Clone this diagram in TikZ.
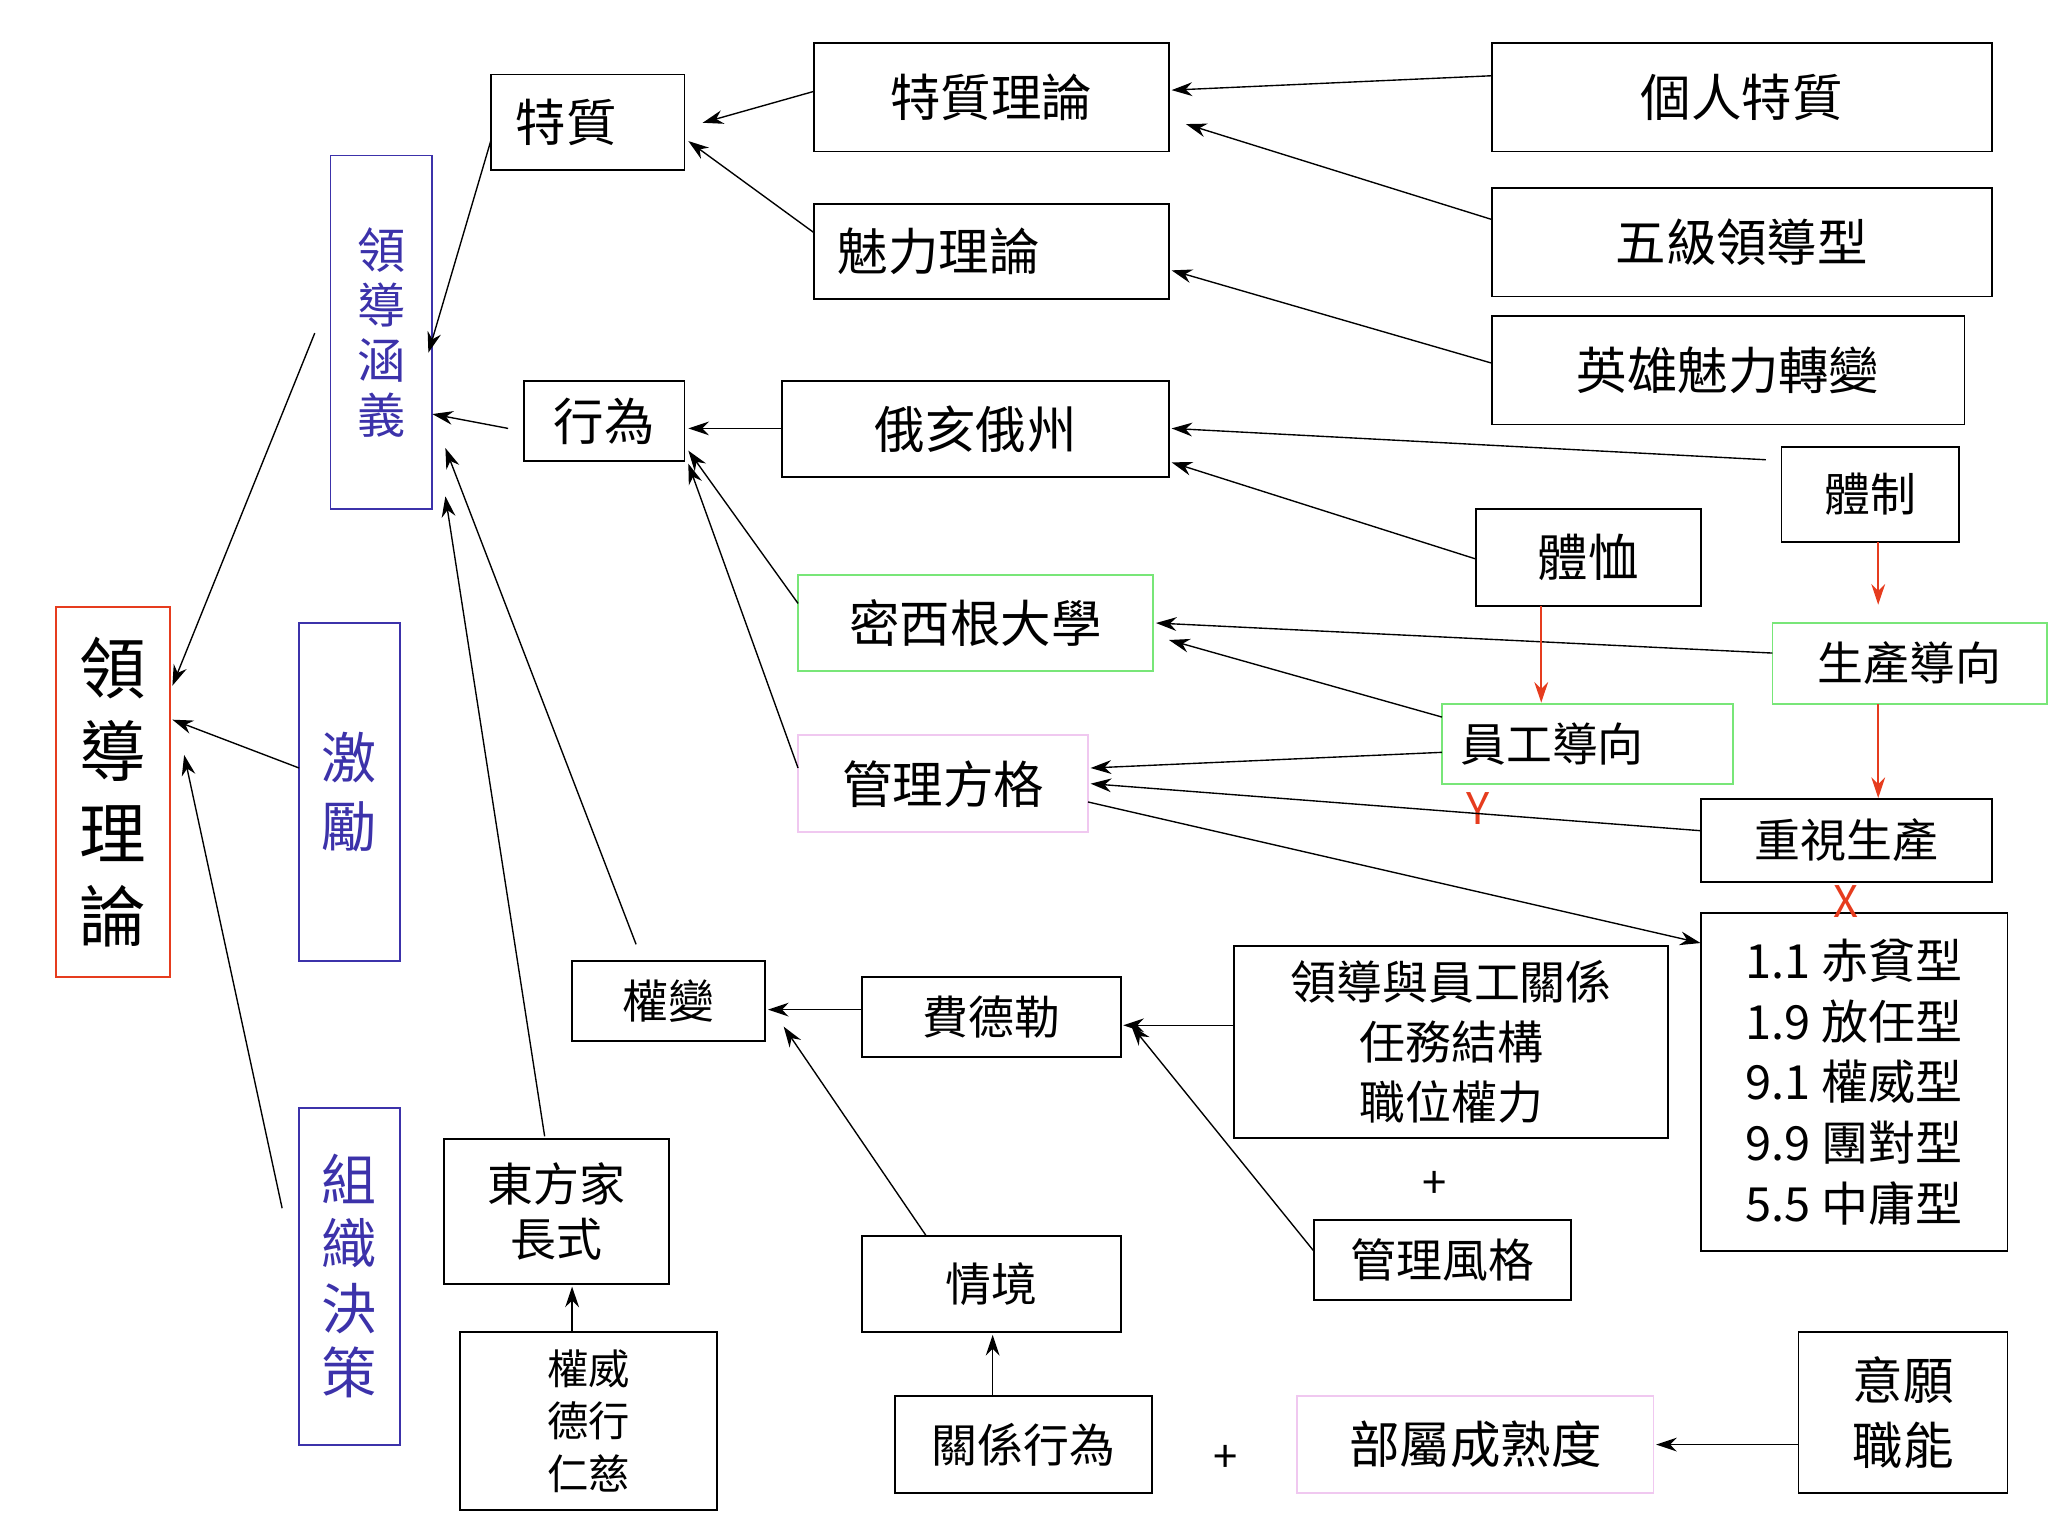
\documentclass[tikz,border=0pt]{standalone}
\usepackage{fontspec}
\setmainfont{Noto Sans CJK TC}
\usetikzlibrary{arrows.meta}
\newcommand\bx[7]{\node[box,#6,minimum width={(#4-#2)*0.02cm},minimum height={(#5-#3)*0.02cm}] (#1) at ({(#2+#4)/2},{(#3+#5)/2}) {#7};}
\newcommand\pt[3]{\coordinate (#1) at (#2,#3);}
\begin{document}
\begin{tikzpicture}[x=0.02cm,y=-0.02cm,
 box/.style={draw=black,line width=0.8pt,inner sep=0pt,align=center,font=\fontsize{22}{26}\selectfont},
 red/.style={draw={rgb,255:red,230;green,60;blue,30}},
 blu/.style={draw={rgb,255:red,60;green,50;blue,170},text={rgb,255:red,60;green,50;blue,170},font=\fontsize{21}{24}\selectfont},
 grn/.style={draw={rgb,255:red,120;green,230;blue,120}},
 pnk/.style={draw={rgb,255:red,240;green,200;blue,240}},
 ar/.style={-{Stealth[length=9pt,width=6pt]},line width=0.6pt},
 rar/.style={-{Stealth[length=9pt,width=6pt]},line width=0.8pt,draw={rgb,255:red,230;green,60;blue,30}}]
\useasboundingbox (0,0) rectangle (1568,1176);
\bx{a}{43}{465}{130}{748}{red,font=\fontsize{29}{36}\selectfont}{領\\導\\理\\論}
\bx{b}{253}{119}{331}{390}{blu}{領\\導\\涵\\義}
\bx{c}{229}{477}{306}{736}{blu,font=\fontsize{24}{30}\selectfont}{激\\勵}
\bx{d}{229}{848}{306}{1106}{blu,font=\fontsize{24}{28}\selectfont}{組\\織\\決\\策}
\bx{e}{376}{57}{524}{130}{text width=2.6cm,align=left}{\hspace*{0.2cm}特質}
\bx{f}{401}{292}{524}{353}{}{行為}
\bx{g}{623}{33}{895}{116}{}{特質理論}
\bx{h}{623}{156}{895}{229}{text width=5.2cm,align=left}{\hspace*{0.25cm}魅力理論}
\bx{i}{1142}{33}{1525}{116}{}{個人特質}
\bx{j}{1142}{144}{1525}{227}{}{五級領導型}
\bx{k}{1142}{242}{1504}{325}{}{英雄魅力轉變}
\bx{l}{599}{292}{895}{365}{}{俄亥俄州}
\bx{m}{1364}{342}{1500}{415}{font=\fontsize{20}{24}\selectfont}{體制}
\bx{n}{1130}{390}{1302}{464}{}{體恤}
\bx{o}{611}{440}{883}{514}{grn}{密西根大學}
\bx{p}{1357}{477}{1567}{539}{grn,font=\fontsize{20}{24}\selectfont}{生產導向}
\bx{q}{1104}{539}{1327}{600}{grn,text width=4.3cm,align=left,font=\fontsize{20}{24}\selectfont}{\hspace*{0.2cm}員工導向}
\bx{r}{611}{563}{833}{637}{pnk}{管理方格}
\bx{s}{1302}{612}{1525}{675}{font=\fontsize{20}{24}\selectfont}{重視生產}
\bx{t}{1302}{699}{1537}{958}{font=\fontsize{20.5}{26.5}\selectfont}{1.1 赤貧型\\1.9 放任型\\9.1 權威型\\9.9 團對型\\5.5 中庸型}
\bx{u}{438}{736}{586}{797}{font=\fontsize{20}{24}\selectfont}{權變}
\bx{v}{660}{748}{858}{809}{font=\fontsize{20}{24}\selectfont}{費德勒}
\bx{w}{945}{724}{1277}{871}{font=\fontsize{20}{26}\selectfont}{領導與員工關係\\任務結構\\職位權力}
\bx{x}{1006}{934}{1203}{995}{font=\fontsize{20}{24}\selectfont}{管理風格}
\bx{y}{340}{872}{512}{983}{font=\fontsize{20}{24}\selectfont}{東方家\\長式}
\bx{z}{352}{1020}{549}{1156}{font=\fontsize{18}{23}\selectfont}{權威\\德行\\仁慈}
\bx{aa}{660}{946}{858}{1020}{font=\fontsize{20}{24}\selectfont}{情境}
\bx{ab}{685}{1069}{882}{1143}{font=\fontsize{20}{24}\selectfont}{關係行為}
\bx{ac}{993}{1069}{1266}{1143}{pnk}{部屬成熟度}
\bx{ad}{1377}{1020}{1537}{1143}{font=\fontsize{22}{28}\selectfont}{意願\\職能}
\node[font=\fontsize{19}{20}\selectfont] (plus1) at (1098,907) {+};
\node[font=\fontsize{19}{20}\selectfont] (plus2) at (938,1117) {+};
\node[font=\fontsize{19}{20}\selectfont,text={rgb,255:red,230;green,60;blue,30}] (Y) at (1132,619) {Y};
\node[font=\fontsize{19}{20}\selectfont,text={rgb,255:red,230;green,60;blue,30}] (X) at (1413,690) {X};
% arrows
\foreach \s/\sx/\sy/\t/\tx/\ty in {
 1/241/255/2/132/525, 3/229/588/4/132/551, 5/216/925/6/141/578,
 7/376/107/8/328/270, 9/389/328/10/331/317, 11/487/723/12/341/343,
 13/417/870/14/341/380, 15/623/70/16/538/94, 17/623/178/18/527/108,
 19/599/328/20/527/328, 21/611/462/22/527/345, 23/611/588/24/527/355,
 25/1142/58/26/897/69, 27/1142/168/28/908/95, 29/1142/278/30/897/207,
 31/1352/352/32/897/328, 33/1130/428/34/897/354, 35/1357/500/36/885/477,
 37/1104/549/38/895/490, 39/1104/576/40/835/588, 41/1302/636/42/835/600,
 43/833/614/44/1302/722, 45/660/773/46/588/773, 47/945/785/48/860/785,
 49/1006/958/50/866/785, 51/709/946/52/600/786, 53/438/1020/54/438/985,
 55/760/1069/56/760/1022, 57/1377/1106/58/1268/1106}
 {\pt{c\s}{\sx}{\sy}\pt{c\t}{\tx}{\ty}\draw[ar] (c\s) -- (c\t);}
\foreach \s/\sx/\sy/\t/\tx/\ty in {61/1438/415/62/1438/463, 63/1180/464/64/1180/538, 65/1438/539/66/1438/611}
 {\pt{c\s}{\sx}{\sy}\pt{c\t}{\tx}{\ty}\draw[rar] (c\s) -- (c\t);}
\end{tikzpicture}
\end{document}
